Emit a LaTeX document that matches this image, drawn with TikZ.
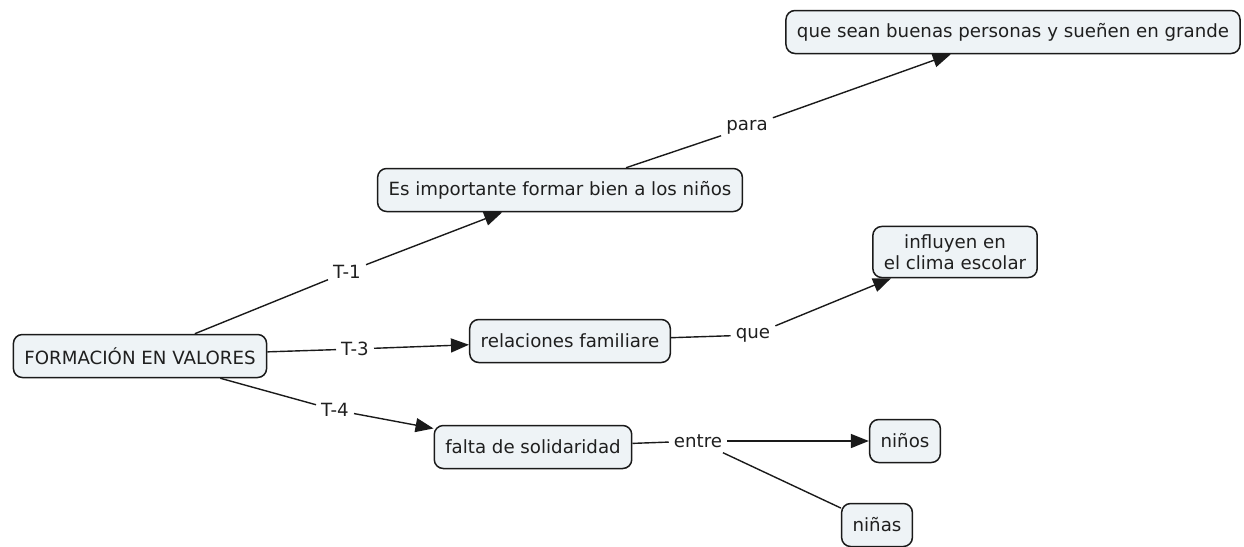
\documentclass[tikz,border=0pt]{standalone}
\usepackage{fontspec}
\setmainfont{DejaVu Sans}
\usetikzlibrary{arrows.meta}
\definecolor{conceptfill}{HTML}{EEF3F6}
\definecolor{edge}{HTML}{1A1A1A}
\tikzset{
  concept/.style={draw=edge, line width=1.5pt, fill=conceptfill, rounded corners=9pt,
    inner xsep=11pt, inner ysep=8pt, minimum height=43pt, font=\fontsize{18.2}{21}\selectfont, text=black!88, align=center},
  linklabel/.style={inner sep=5pt, font=\fontsize{18.2}{21}\selectfont, text=black!88},
  conn/.style={draw=edge, line width=1.4pt},
  arr/.style={conn, -{Triangle[length=18pt,width=14pt]}}
}
\begin{document}
\begin{tikzpicture}[x=1pt,y=-1pt]
\useasboundingbox (0,0) rectangle (1244,546);
% concepts
\node[concept] (fv) at (140,356) {FORMACIÓN EN VALORES};
\node[concept] (imp) at (560,190) {Es importante formar bien a los niños};
\node[concept] (que) at (1013,32) {que sean buenas personas y sueñen en grande};
\node[concept] (inf) at (955,252) {influyen en\\el clima escolar};
\node[concept] (rel) at (570,341) {relaciones familiare};
\node[concept] (fal) at (533,447) {falta de solidaridad};
\node[concept] (nos) at (905,441) {niños};
\node[concept] (nas) at (877,525) {niñas};
% link labels
\node[linklabel] (t1) at (347,272) {T-1};
\node[linklabel] (para) at (747,127) {para};
\node[linklabel] (t3) at (355,349) {T-3};
\node[linklabel] (q) at (753,335) {que};
\node[linklabel] (t4) at (335,410) {T-4};
\node[linklabel] (entre) at (698,441) {entre};
% connectors
\draw[conn] (fv) -- (t1);
\draw[arr] (t1) -- (imp);
\draw[conn] (imp) -- (para);
\draw[arr] (para) -- (que);
\draw[conn] (fv) -- (t3);
\draw[arr] (t3) -- (rel);
\draw[conn] (rel) -- (q);
\draw[arr] (q) -- (inf);
\draw[conn] (fv) -- (t4);
\draw[arr] (t4) -- (fal);
\draw[conn] (fal) -- (entre);
\draw[arr] (entre) -- (nos);
\draw[conn] (entre) -- (nas);
\end{tikzpicture}
\end{document}
